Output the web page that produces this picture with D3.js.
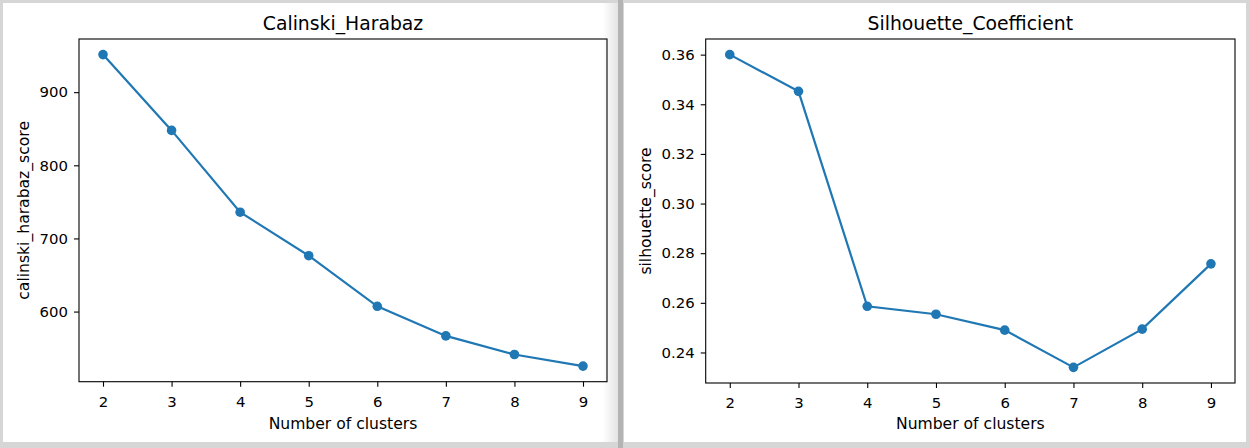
<!DOCTYPE html>
<html>
<head>
<meta charset="utf-8">
<script src="https://cdn.jsdelivr.net/npm/d3@7"></script>
<style>
  body { margin: 0; background: #d3d3d3; }
  svg { display: block; font-family: "DejaVu Sans", sans-serif; }
</style>
</head>
<body>
<svg id="chart" width="1249" height="448"></svg>
<script>
// values
let clusters = [2, 3, 4, 5, 6, 7, 8, 9]
let calinski_scores = [951.4, 847.7, 735.9, 676.4, 607.2, 566.7, 541.3, 525.4]
let silhouette_scores = [0.360, 0.3452, 0.2586, 0.2554, 0.2490, 0.2340, 0.2494, 0.2757]
let calinski_ticks = [600, 700, 800, 900]
let silhouette_ticks = [0.24, 0.26, 0.28, 0.30, 0.32, 0.34, 0.36]

let svg = d3.select("#chart")

// window frame behind the two figures
let grad = svg.append("defs").append("linearGradient").attr("id", "shade")
grad.append("stop").attr("offset", "0.975").attr("stop-color", "#ffffff")
grad.append("stop").attr("offset", "1").attr("stop-color", "#e4e4e4")

svg.append("rect")
  .attr("x", 0).attr("y", 0).attr("width", 1249).attr("height", 448)
  .attr("fill", "#d6d6d6")
svg.append("rect")
  .attr("x", 3).attr("y", 3).attr("width", 615).attr("height", 439)
  .attr("fill", "url(#shade)")
svg.append("rect")
  .attr("x", 618).attr("y", 0).attr("width", 5).attr("height", 448)
  .attr("fill", "#b4b4b4")
svg.append("rect")
  .attr("x", 624).attr("y", 3).attr("width", 622).attr("height", 439)
  .attr("fill", "#ffffff")

function padded(values) {
  let [lo, hi] = d3.extent(values)
  let pad = (hi - lo) * 0.05
  return [lo - pad, hi + pad]
}

function style_axis(a) {
  a.attr("font-size", null).attr("font-family", null)
  a.select(".domain").remove()
  a.selectAll(".tick line").attr("stroke", "#000").attr("stroke-width", 1.1)
  a.selectAll(".tick text")
    .attr("font-size", 14.9)
    .attr("font-family", "DejaVu Sans")
    .attr("fill", "#000")
}

function draw_panel(opts) {
  let m = opts.box
  let g = svg.append("g")

  let x = d3.scaleLinear()
    .domain(padded(clusters))
    .range([m.left, m.right])
  let y = d3.scaleLinear()
    .domain(padded(opts.values))
    .range([m.bottom, m.top])

  let x_axis = d3.axisBottom(x)
    .tickValues(clusters)
    .tickFormat(d3.format("d"))
    .tickSize(5)
    .tickPadding(9.5)
  g.append("g")
    .attr("transform", `translate(0, ${m.bottom})`)
    .call(x_axis)
    .call(style_axis)

  let y_axis = d3.axisLeft(y)
    .tickValues(opts.ticks)
    .tickFormat(opts.format)
    .tickSize(5)
    .tickPadding(6)
  g.append("g")
    .attr("transform", `translate(${m.left}, 0)`)
    .call(y_axis)
    .call(style_axis)

  // axes frame
  g.append("rect")
    .attr("x", m.left).attr("y", m.top)
    .attr("width", m.right - m.left).attr("height", m.bottom - m.top)
    .attr("fill", "none")
    .attr("stroke", "#000")
    .attr("stroke-width", 1.1)

  let pts = clusters.map((c, i) => ({c: c, v: opts.values[i]}))
  let line = d3.line()
    .x(d => x(d.c))
    .y(d => y(d.v))

  g.append("path")
    .datum(pts)
    .attr("d", line)
    .attr("fill", "none")
    .attr("stroke", "#1f77b4")
    .attr("stroke-width", 2.2)

  g.selectAll("circle")
    .data(pts).enter()
    .append("circle")
    .attr("cx", d => x(d.c))
    .attr("cy", d => y(d.v))
    .attr("r", 4.8)
    .attr("fill", "#1f77b4")

  let cx = (m.left + m.right) / 2
  g.append("text")
    .attr("x", cx).attr("y", 30)
    .attr("text-anchor", "middle")
    .attr("font-size", 18.8)
    .text(opts.title)

  g.append("text")
    .attr("x", cx).attr("y", 428.5)
    .attr("text-anchor", "middle")
    .attr("font-size", 15.6)
    .text("Number of clusters")

  g.append("text")
    .attr("transform", `translate(${opts.ylabel_x}, ${(m.top + m.bottom) / 2}) rotate(-90)`)
    .attr("text-anchor", "middle")
    .attr("font-size", 15.6)
    .text(opts.ylabel)
}

draw_panel({
  box: {left: 79, right: 607, top: 39, bottom: 381.7},
  values: calinski_scores,
  ticks: calinski_ticks,
  format: d3.format("d"),
  title: "Calinski_Harabaz",
  ylabel: "calinski_harabaz_score",
  ylabel_x: 29
})

draw_panel({
  box: {left: 705.7, right: 1235, top: 39, bottom: 383},
  values: silhouette_scores,
  ticks: silhouette_ticks,
  format: d3.format(".2f"),
  title: "Silhouette_Coefficient",
  ylabel: "silhouette_score",
  ylabel_x: 650.5
})
</script>
</body>
</html>
